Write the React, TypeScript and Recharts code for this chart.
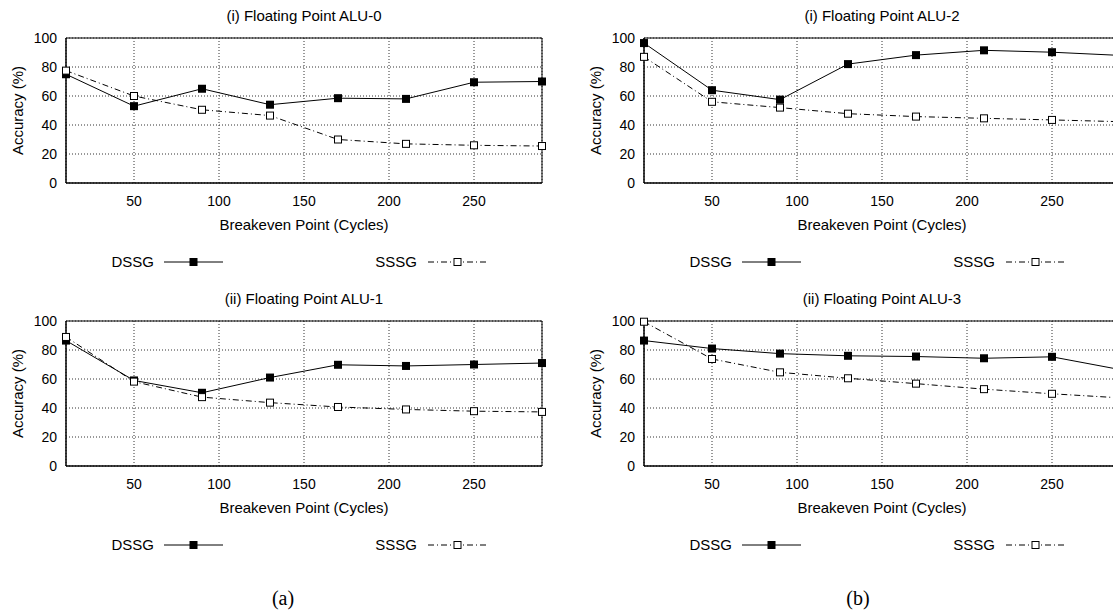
import { LineChart, Line, XAxis, YAxis, CartesianGrid, Legend, ReferenceArea } from 'recharts';

// breakeven points (cycles) shared by every panel
const cycles = [10, 50, 90, 130, 170, 210, 250, 290];
const xTicks = [50, 100, 150, 200, 250];
const yTicks = [0, 20, 40, 60, 80, 100];

const alu0Dssg = [75, 53, 65, 54, 58.5, 58, 69.5, 70];
const alu0Sssg = [77.5, 60, 50.5, 46.5, 30, 27, 26, 25.5];

const alu1Dssg = [86.5, 59, 50.5, 61, 69.8, 69, 70, 71];
const alu1Sssg = [89, 58.2, 47.5, 43.7, 40.7, 39, 37.8, 37.3];

const alu2Dssg = [96.5, 64, 57.5, 82, 88.2, 91.5, 90.2, 88];
const alu2Sssg = [87, 56, 52, 47.8, 45.8, 44.6, 43.5, 42.3];

const alu3Dssg = [86.5, 81, 77.5, 76, 75.5, 74.3, 75.3, 66.5];
const alu3Sssg = [99.5, 73.8, 64.6, 60.5, 56.8, 53, 49.8, 47];

const FONT = '"Liberation Sans", Arial, Helvetica, sans-serif';

// plot box inside each panel
const PLOT_LEFT = 66;
const PLOT_RIGHT = 542;
const PLOT_TOP = 38;
const PANEL_W = 560;
const PANEL_H = 290;

const FilledSquare = (props: any) => {
    const { cx, cy, index } = props;
    return <rect key={`f-${index}`} x={cx - 4} y={cy - 4} width={8} height={8} fill="#000" />;
};

const OpenSquare = (props: any) => {
    const { cx, cy, index } = props;
    return <rect key={`o-${index}`} x={cx - 3.5} y={cy - 3.5} width={7} height={7} fill="#fff" stroke="#000" strokeWidth={1} />;
};

const DASH_DOT = '6 3 1 3';

const KeyBox = (props: any) => {
    const items = props.payload ?? [];
    const layout = [
        { textEnd: 88, x1: 98, x2: 157 },
        { textEnd: 351, x1: 362, x2: 421 },
    ];
    return (
        <svg width={PANEL_W} height={24} style={{ display: 'block' }}>
            {items.map((it: any, i: number) => {
                const l = layout[i];
                if (!l) return null;
                const mid = (l.x1 + l.x2) / 2;
                const solid = i === 0;
                return (
                    <g key={it.value}>
                        <text x={PLOT_LEFT + l.textEnd} y={12} dy="0.35em" textAnchor="end" fontSize={15} fontFamily={FONT} fill="#000">
                            {it.value}
                        </text>
                        <line x1={PLOT_LEFT + l.x1} x2={PLOT_LEFT + l.x2} y1={12} y2={12} stroke="#000" strokeWidth={1}
                            strokeDasharray={solid ? undefined : DASH_DOT} />
                        {solid
                            ? <rect x={PLOT_LEFT + mid - 4} y={8} width={8} height={8} fill="#000" />
                            : <rect x={PLOT_LEFT + mid - 3.5} y={8.5} width={7} height={7} fill="#fff" stroke="#000" />}
                    </g>
                );
            })}
        </svg>
    );
};

interface PanelProps {
    title: string;
    dssg: number[];
    sssg: number[];
    left: number;
    top: number;
}

const Panel = ({ title, dssg, sssg, left, top }: PanelProps) => {
    const rows = cycles.map((c, i) => ({ cycles: c, dssg: dssg[i], sssg: sssg[i] }));
    return (
        <div style={{ position: 'absolute', left, top, width: PANEL_W, height: PANEL_H }}>
            <div style={{ position: 'absolute', left: PLOT_LEFT, width: PLOT_RIGHT - PLOT_LEFT, top: 6, textAlign: 'center', fontSize: 15, lineHeight: '20px', fontFamily: FONT, color: '#000', whiteSpace: 'nowrap' }}>
                {title}
            </div>
            <LineChart width={PANEL_W} height={PANEL_H} data={rows}
                margin={{ top: PLOT_TOP, right: PANEL_W - PLOT_RIGHT, left: 0, bottom: 57 }}>
                <CartesianGrid stroke="#333" strokeDasharray="1 2" />
                <XAxis dataKey="cycles" type="number" domain={[10, 290]} ticks={xTicks} height={50}
                    tickLine={false} tickSize={0} tickMargin={13} axisLine={{ stroke: '#000' }}
                    tick={{ fill: '#000', fontSize: 14, fontFamily: FONT }}
                    label={{ value: 'Breakeven Point (Cycles)', position: 'insideBottom', offset: 3, fill: '#000', fontSize: 15, fontFamily: FONT }} />
                <YAxis type="number" domain={[0, 100]} ticks={yTicks} width={PLOT_LEFT}
                    tickLine={false} tickSize={0} tickMargin={9} axisLine={{ stroke: '#000' }}
                    tick={{ fill: '#000', fontSize: 14, fontFamily: FONT }}
                    label={{ value: 'Accuracy (%)', angle: -90, position: 'insideLeft', offset: 18, fill: '#000', fontSize: 15, fontFamily: FONT, style: { textAnchor: 'middle' } }} />
                <ReferenceArea x1={10} x2={290} y1={0} y2={100} fill="none" stroke="#000" strokeWidth={1} fillOpacity={0} ifOverflow="visible" />
                <Legend layout="horizontal" verticalAlign="middle" align="center" content={KeyBox}
                    wrapperStyle={{ top: 250, left: 0, width: PANEL_W, height: 24 }} />
                <Line type="linear" dataKey="dssg" name="DSSG" stroke="#000" strokeWidth={1}
                    dot={FilledSquare} activeDot={false} isAnimationActive={false} />
                <Line type="linear" dataKey="sssg" name="SSSG" stroke="#000" strokeWidth={1} strokeDasharray={DASH_DOT}
                    dot={OpenSquare} activeDot={false} isAnimationActive={false} />
            </LineChart>
        </div>
    );
};

export default function App() {
    const capStyle = { position: 'absolute' as const, top: 586, width: 60, textAlign: 'center' as const, fontFamily: '"Liberation Serif", "Times New Roman", serif', fontSize: 20, lineHeight: '24px', color: '#000' };
    return (
        <div style={{ position: 'absolute', left: 0, top: 0, width: 1113, height: 613, overflow: 'hidden', background: '#fff' }}>
            <Panel title="(i) Floating Point ALU-0" dssg={alu0Dssg} sssg={alu0Sssg} left={0} top={0} />
            <Panel title="(ii) Floating Point ALU-1" dssg={alu1Dssg} sssg={alu1Sssg} left={0} top={283} />
            <Panel title="(i) Floating Point ALU-2" dssg={alu2Dssg} sssg={alu2Sssg} left={578} top={0} />
            <Panel title="(ii) Floating Point ALU-3" dssg={alu3Dssg} sssg={alu3Sssg} left={578} top={283} />
            <div style={{ ...capStyle, left: 283 - 30 }}>(a)</div>
            <div style={{ ...capStyle, left: 858 - 30 }}>(b)</div>
        </div>
    );
}
